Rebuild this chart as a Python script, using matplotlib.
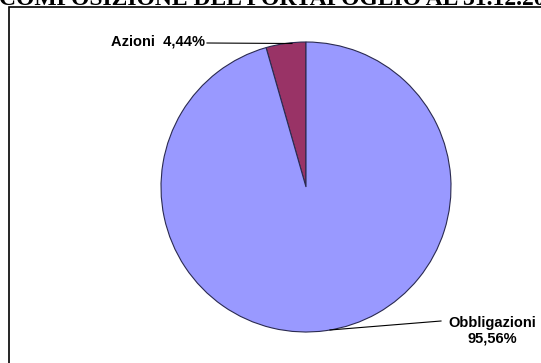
import matplotlib.pyplot as plt
from matplotlib.patches import Rectangle

labels = ["Azioni", "Obbligazioni"]
values = [4.44, 95.56]
colors = ["#993366", "#9999FF"]

fig = plt.figure(figsize=(5.41, 3.63), dpi=100)

# chart frame (only left and top edges are inside the picture)
fig.patches.append(Rectangle((9 / 541, -0.05), 1.2, (363 - 7) / 363 + 0.05,
                             transform=fig.transFigure, fill=False,
                             edgecolor="black", linewidth=1.2))

# title, cut at the top edge
fig.text(-0.002, 1 - 5 / 363, "COMPOSIZIONE DEL PORTAFOGLIO AL 31.12.2012",
         family="Liberation Serif", fontweight="bold", fontsize=17,
         ha="left", va="baseline")

ax = fig.add_axes([0, 0, 1, 1])

# y axis is inverted below, so draw clockwise from the bottom to get the
# usual counter-clockwise-from-top layout on screen
cx, cy, r = 306, 187, 145
ax.pie(values, colors=colors, startangle=-90, counterclock=False,
       center=(cx, cy), radius=r, frame=True,
       wedgeprops=dict(edgecolor="#2a2a50", linewidth=0.8))
ax.set_xlim(0, 541)
ax.set_ylim(363, 0)
ax.set_aspect("equal")
ax.axis("off")

lbl = dict(family="Liberation Sans", fontweight="bold", fontsize=10.5)
ax.text(205, 42, "Azioni  4,44%", ha="right", va="center", **lbl)
ax.plot([207, 292], [43, 43.5], color="black", linewidth=0.8)
ax.text(492, 331, "Obbligazioni\n95,56%", ha="center", va="center",
        linespacing=1.15, **lbl)
ax.plot([441, 330], [321, 330], color="black", linewidth=0.8)

fig.savefig("out.png", dpi=100)
